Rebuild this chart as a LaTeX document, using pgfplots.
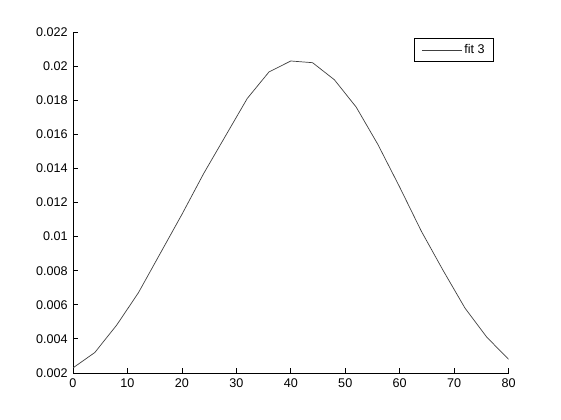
\documentclass[border=0pt]{standalone}
\usepackage{fontspec}
\setmainfont{Liberation Sans}
\usepackage{pgfplots}
\pgfplotsset{compat=1.18}

\begin{document}
\begin{tikzpicture}
\fontsize{12.6bp}{15bp}\selectfont
\path[use as bounding box] (0,0) rectangle (561bp,420bp);
\begin{axis}[
    at={(73bp,47bp)}, anchor=south west,
    scale only axis,
    width=435.6bp, height=341bp,
    xmin=0, xmax=80, ymin=0.002, ymax=0.022,
    axis lines*=left,
    axis line style={line width=0.8bp, -},
    tick style={line width=0.8bp, black},
    tick align=inside,
    major tick length=4.5bp,
    xtick={0,10,...,80},
    ytick={0.002,0.004,0.006,0.008,0.010,0.012,0.014,0.016,0.018,0.020,0.022},
    yticklabels={0.002,0.004,0.006,0.008,0.01,0.012,0.014,0.016,0.018,0.02,0.022},
    scaled y ticks=false,
    /pgf/number format/assume math mode=true,
    tick label style={font=\fontsize{12.6bp}{15bp}\selectfont},
    yticklabel style={xshift=-1bp},
    xticklabel style={yshift=-1bp},
    legend style={at={(0.9665,0.982)}, anchor=north east,
        draw=black, line width=0.8bp,
        font=\fontsize{12.6bp}{15bp}\selectfont,
        inner xsep=7bp, inner ysep=4bp},
    legend image code/.code={\draw[#1] (0bp,0bp) -- (40bp,0bp);},
]
\addplot[color=black!75, line width=0.7bp] coordinates {
    (0,0.0023) (4,0.0032) (8,0.0048) (12,0.0067) (16,0.0090)
    (20,0.0113) (24,0.0137) (28,0.0159) (32,0.0181) (36,0.01966)
    (40,0.0203) (44,0.0202) (48,0.0192) (52,0.0176) (56,0.0154)
    (60,0.0129) (64,0.0103) (68,0.0080) (72,0.0058) (76,0.0041)
    (80,0.0028)
};
\addlegendentry{fit 3}
\end{axis}
\end{tikzpicture}
\end{document}
